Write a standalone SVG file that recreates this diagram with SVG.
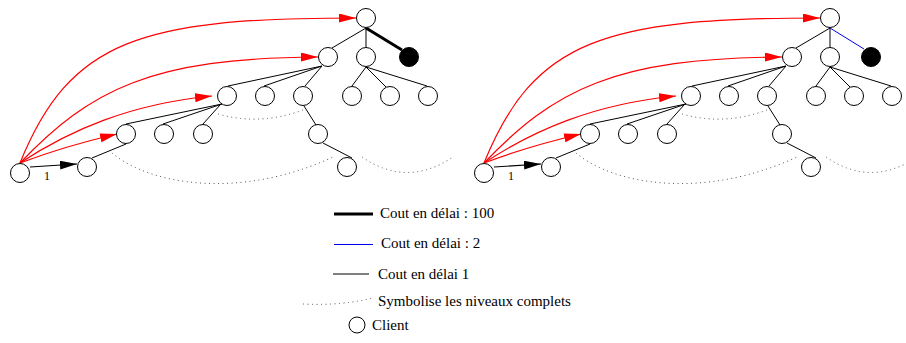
<svg xmlns="http://www.w3.org/2000/svg" width="906" height="343" viewBox="0 0 906 343">
  <style>
    .node { fill: #ffffff; stroke: #000000; stroke-width: 1; }
    .full { fill: #000000; stroke: #000000; stroke-width: 1; }
    .edge { stroke: #000000; stroke-width: 1; fill: none; }
    .heavy { stroke: #000000; stroke-width: 3; fill: none; }
    .blue { stroke: #0000ee; stroke-width: 1; fill: none; }
    .dots { stroke: #555555; stroke-width: 1; fill: none; stroke-dasharray: 1 3.5; }
    .req { stroke: #ff0000; stroke-width: 1.2; fill: none; marker-end: url(#headRed); }
    .hop { stroke: #000000; stroke-width: 1.2; fill: none; marker-end: url(#headBlack); }
    .lbl { font-family: "Liberation Serif", "Times New Roman", serif; font-size: 15px; fill: #000000; }
    .small { font-family: "Liberation Serif", "Times New Roman", serif; font-size: 12px; fill: #000000; }
  </style>
  <defs>
    <marker id="headRed" markerUnits="userSpaceOnUse" markerWidth="18" markerHeight="10" refX="17" refY="4.5" orient="auto">
      <path d="M0,0 L17,4.5 L0,9 z" fill="#ff0000"/>
    </marker>
    <marker id="headBlack" markerUnits="userSpaceOnUse" markerWidth="18" markerHeight="10" refX="17" refY="4.5" orient="auto">
      <path d="M0,0 L17,4.5 L0,9 z" fill="#000000"/>
    </marker>
  </defs>
  <rect width="906" height="343" fill="#ffffff"/>

  <!-- ===== Left tree: connectors ===== -->
  <g id="left-connectors">
    <line class="edge" x1="366" y1="28" x2="332" y2="48"/>
    <line class="edge" x1="366" y1="28" x2="366" y2="47"/>
    <line class="heavy" x1="366" y1="28" x2="402" y2="50"/>
    <line class="edge" x1="322" y1="66" x2="228" y2="86"/>
    <line class="edge" x1="322" y1="66" x2="264" y2="86"/>
    <line class="edge" x1="322" y1="66" x2="305" y2="86"/>
    <line class="edge" x1="366" y1="67" x2="352" y2="86"/>
    <line class="edge" x1="366" y1="67" x2="386" y2="87"/>
    <line class="edge" x1="366" y1="67" x2="427" y2="86"/>
    <line class="edge" x1="222" y1="104" x2="126" y2="124"/>
    <line class="edge" x1="222" y1="104" x2="163" y2="124"/>
    <line class="edge" x1="220" y1="105" x2="203" y2="124"/>
    <line class="edge" x1="126" y1="144" x2="92" y2="158"/>
    <line class="edge" x1="304" y1="106" x2="316" y2="125"/>
    <line class="edge" x1="323" y1="143" x2="352" y2="158"/>
    <path class="dots" d="M218,114 Q260,126 303,110"/>
    <path class="dots" d="M112,153 C150,185 240,200 333,157"/>
    <path class="dots" d="M362,157 Q407,188 453,157"/>
    <path class="req" d="M20,163 C70,40 140,18 356,18"/>
    <path class="req" d="M20,163 C90,90 150,58 318,57"/>
    <path class="req" d="M20,163 C70,130 130,104 212,96"/>
    <path class="req" d="M20,163 Q65,146 117,134"/>
    <path class="hop" d="M30,167 L77,164"/>
    <text class="small" x="47" y="180" text-anchor="middle">1</text>
  </g>

  <!-- ===== Left tree: nodes ===== -->
  <g id="L-client"><circle class="node" cx="20" cy="173" r="9.5"/></g>
  <g id="L-a"><circle class="node" cx="87" cy="167" r="9.5"/></g>
  <g id="L-b1"><circle class="node" cx="126" cy="134" r="9.5"/></g>
  <g id="L-b2"><circle class="node" cx="164" cy="134" r="9.5"/></g>
  <g id="L-b3"><circle class="node" cx="203" cy="134" r="9.5"/></g>
  <g id="L-c1"><circle class="node" cx="227" cy="96" r="9.5"/></g>
  <g id="L-c2"><circle class="node" cx="265" cy="96" r="9.5"/></g>
  <g id="L-c3"><circle class="node" cx="303" cy="96" r="9.5"/></g>
  <g id="L-c3a"><circle class="node" cx="318" cy="134" r="9.5"/></g>
  <g id="L-c3b"><circle class="node" cx="347" cy="167" r="9.5"/></g>
  <g id="L-d"><circle class="node" cx="328" cy="57" r="9.5"/></g>
  <g id="L-m"><circle class="node" cx="366" cy="57" r="9.5"/></g>
  <g id="L-far"><circle class="full" cx="409" cy="57" r="9.5"/></g>
  <g id="L-root"><circle class="node" cx="366" cy="18" r="9.5"/></g>
  <g id="L-m1"><circle class="node" cx="352" cy="96" r="9.5"/></g>
  <g id="L-m2"><circle class="node" cx="390" cy="96" r="9.5"/></g>
  <g id="L-m3"><circle class="node" cx="428" cy="96" r="9.5"/></g>

  <!-- ===== Right tree: connectors ===== -->
  <g id="right-connectors">
    <line class="edge" x1="830" y1="28" x2="796" y2="48"/>
    <line class="edge" x1="830" y1="28" x2="830" y2="47"/>
    <line class="blue" x1="830" y1="28" x2="864" y2="49"/>
    <line class="edge" x1="786" y1="66" x2="692" y2="86"/>
    <line class="edge" x1="786" y1="66" x2="728" y2="86"/>
    <line class="edge" x1="786" y1="66" x2="769" y2="86"/>
    <line class="edge" x1="830" y1="67" x2="816" y2="86"/>
    <line class="edge" x1="830" y1="67" x2="850" y2="87"/>
    <line class="edge" x1="830" y1="67" x2="891" y2="86"/>
    <line class="edge" x1="686" y1="104" x2="590" y2="124"/>
    <line class="edge" x1="686" y1="104" x2="627" y2="124"/>
    <line class="edge" x1="684" y1="105" x2="667" y2="124"/>
    <line class="edge" x1="590" y1="144" x2="556" y2="158"/>
    <line class="edge" x1="768" y1="106" x2="780" y2="125"/>
    <line class="edge" x1="787" y1="143" x2="816" y2="158"/>
    <path class="dots" d="M682,114 Q724,126 767,110"/>
    <path class="dots" d="M576,153 C614,185 704,200 797,157"/>
    <path class="dots" d="M826,157 Q871,188 917,157"/>
    <path class="req" d="M484,163 C534,40 604,18 820,18"/>
    <path class="req" d="M484,163 C554,90 614,58 782,57"/>
    <path class="req" d="M484,163 C534,130 594,104 676,96"/>
    <path class="req" d="M484,163 Q529,146 581,134"/>
    <path class="hop" d="M494,167 L541,164"/>
    <text class="small" x="511" y="180" text-anchor="middle">1</text>
  </g>

  <!-- ===== Right tree: nodes ===== -->
  <g id="R-client"><circle class="node" cx="484" cy="173" r="9.5"/></g>
  <g id="R-a"><circle class="node" cx="551" cy="167" r="9.5"/></g>
  <g id="R-b1"><circle class="node" cx="590" cy="134" r="9.5"/></g>
  <g id="R-b2"><circle class="node" cx="628" cy="134" r="9.5"/></g>
  <g id="R-b3"><circle class="node" cx="667" cy="134" r="9.5"/></g>
  <g id="R-c1"><circle class="node" cx="691" cy="96" r="9.5"/></g>
  <g id="R-c2"><circle class="node" cx="729" cy="96" r="9.5"/></g>
  <g id="R-c3"><circle class="node" cx="767" cy="96" r="9.5"/></g>
  <g id="R-c3a"><circle class="node" cx="782" cy="134" r="9.5"/></g>
  <g id="R-c3b"><circle class="node" cx="811" cy="167" r="9.5"/></g>
  <g id="R-d"><circle class="node" cx="792" cy="57" r="9.5"/></g>
  <g id="R-m"><circle class="node" cx="830" cy="57" r="9.5"/></g>
  <g id="R-far"><circle class="full" cx="871" cy="57" r="9.5"/></g>
  <g id="R-root"><circle class="node" cx="830" cy="18" r="9.5"/></g>
  <g id="R-m1"><circle class="node" cx="816" cy="96" r="9.5"/></g>
  <g id="R-m2"><circle class="node" cx="854" cy="96" r="9.5"/></g>
  <g id="R-m3"><circle class="node" cx="892" cy="96" r="9.5"/></g>

  <!-- ===== Legend ===== -->
  <g id="legend">
    <line class="heavy" x1="334" y1="214" x2="373" y2="214"/>
    <text class="lbl" x="380" y="218">Cout en délai : 100</text>
    <line class="blue" x1="334" y1="244.5" x2="373" y2="244.5"/>
    <text class="lbl" x="381" y="248">Cout en délai : 2</text>
    <line class="edge" x1="333" y1="274" x2="369" y2="274"/>
    <text class="lbl" x="378" y="279">Cout en délai 1</text>
    <path class="dots" d="M303,304 Q340,306 373,298"/>
    <text class="lbl" x="378" y="306">Symbolise les niveaux complets</text>
    <circle class="node" cx="357" cy="325" r="8"/>
    <text class="lbl" x="372" y="330">Client</text>
  </g>
</svg>
